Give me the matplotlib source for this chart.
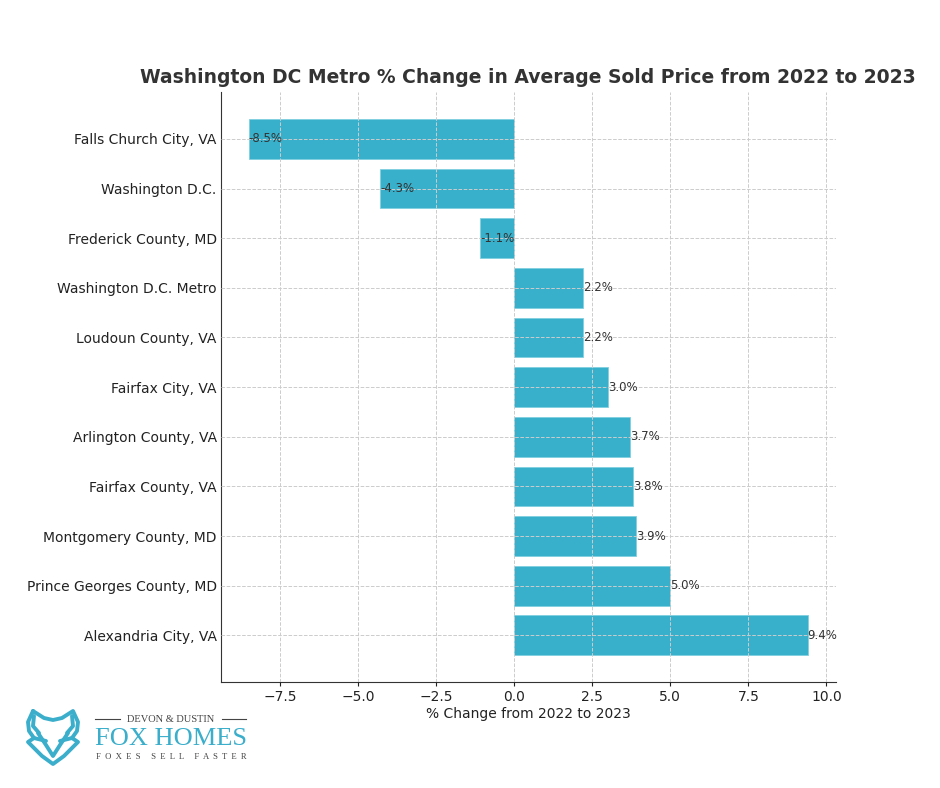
import matplotlib.pyplot as plt
from matplotlib.lines import Line2D

# Data (top to bottom)
areas = ["Falls Church City, VA", "Washington D.C.", "Frederick County, MD",
         "Washington D.C. Metro", "Loudoun County, VA", "Fairfax City, VA",
         "Arlington County, VA", "Fairfax County, VA", "Montgomery County, MD",
         "Prince Georges County, MD", "Alexandria City, VA"]
pct_change = [-8.5, -4.3, -1.1, 2.2, 2.2, 3.0, 3.7, 3.8, 3.9, 5.0, 9.4]

bar_color = "#38b0cb"
teal = "#3aaecb"
W, H = 940.0, 788.0

fig = plt.figure(figsize=(9.4, 7.88), dpi=100)
ax = fig.add_axes([0.235, 0.1345, 0.654, 0.7485])

ax.barh(areas, pct_change, height=0.8, color=bar_color, edgecolor="#7fcfe0",
        linewidth=0.6, zorder=2)
ax.invert_yaxis()

for i, v in enumerate(pct_change):
    ax.text(v, i, "{:.1f}%".format(v), ha="left", va="center", fontsize=8.5,
            color="#333333", zorder=4)

ax.grid(True, linestyle="--", color="#cccccc", linewidth=0.7, zorder=3)
ax.set_axisbelow(False)
for sp in ["top", "right"]:
    ax.spines[sp].set_visible(False)
for sp in ["left", "bottom"]:
    ax.spines[sp].set_color("#333333")

ax.tick_params(axis="y", labelsize=10, colors="#222222", length=0, pad=3)
ax.tick_params(axis="x", labelsize=10, colors="#222222", length=3, pad=3)
ax.set_xlabel("% Change from 2022 to 2023", fontsize=10, color="#222222",
              labelpad=2)
ax.set_title("Washington DC Metro % Change in Average Sold Price from 2022 to 2023",
             fontsize=13.5, fontweight="bold", color="#333333", pad=6.5)


# logo: fox head outline, drawn in pixel coordinates of the figure
def px(points):
    return [p[0] / W for p in points], [1 - p[1] / H for p in points]


fox_lines = [
    # outer head
    [(33, 711), (28, 722), (29, 731), (34, 738), (28, 742), (42, 756),
     (53, 764), (64, 756), (78, 742), (72, 738), (77, 731), (78, 722),
     (73, 711), (62, 718), (53, 720), (44, 718), (33, 711)],
    # inner ears
    [(34, 716), (33, 726), (39, 733)],
    [(72, 716), (73, 726), (67, 733)],
    # face
    [(38, 733), (46, 745), (53, 756), (60, 745), (68, 733)],
    [(34, 738), (46, 741)],
    [(72, 738), (60, 741)],
]
for pts in fox_lines:
    xs, ys = px(pts)
    fig.add_artist(Line2D(xs, ys, transform=fig.transFigure, color=teal,
                          linewidth=2.8, solid_joinstyle="round",
                          solid_capstyle="round"))

for seg in [[(95, 719), (120, 719)], [(222, 719), (246, 719)]]:
    xs, ys = px(seg)
    fig.add_artist(Line2D(xs, ys, transform=fig.transFigure,
                          color="#444444", linewidth=0.8))

fig.text(171 / W, 1 - 719 / H, "DEVON & DUSTIN", ha="center", va="center",
         fontsize=7.5, family="Liberation Serif", color="#444444")
fig.text(171 / W, 1 - 739 / H, "FOX HOMES", ha="center", va="center",
         fontsize=19, family="Liberation Serif", color=teal)
fig.text(171 / W, 1 - 757 / H, "F  O  X  E  S     S  E  L  L     F  A  S  T  E  R",
         ha="center", va="center", fontsize=6.2, family="Liberation Serif",
         color="#444444")

fig.savefig("out.png", dpi=100)
